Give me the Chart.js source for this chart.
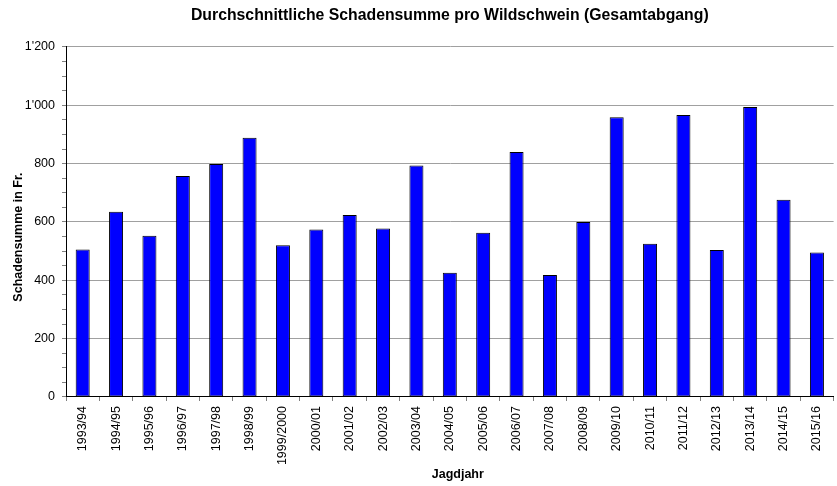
<!DOCTYPE html>
<html>
<head>
<meta charset="utf-8">
<script src="https://cdn.jsdelivr.net/npm/chart.js@4/dist/chart.umd.min.js"></script>
<style>
  html, body { margin: 0; padding: 0; background: #ffffff; }
  #wrap { width: 837px; height: 486px; }
</style>
</head>
<body>
<div id="wrap"><canvas id="c" width="837" height="486"></canvas></div>
<script>
const categories = ["1993/94","1994/95","1995/96","1996/97","1997/98","1998/99","1999/2000","2000/01","2001/02","2002/03","2003/04","2004/05","2005/06","2006/07","2007/08","2008/09","2009/10","2010/11","2011/12","2012/13","2013/14","2014/15","2015/16"];
const schadensumme = [506, 635, 553, 758, 799, 889, 520, 574, 624, 578, 794, 426, 563, 840, 418, 600, 959, 525, 967, 504, 994, 676, 495];
const chartTitle = "Durchschnittliche Schadensumme pro Wildschwein (Gesamtabgang)";
const yTitle = "Schadensumme in Fr.";
const xTitle = "Jagdjahr";
const yMax = 1200;
const yMajorStep = 200;
const yMinorStep = 50;

const FONT = "'Liberation Sans', Arial, Helvetica, sans-serif";

function fmt(v) {
  return String(v).replace(/\B(?=(\d{3})+(?!\d))/g, "'");
}

// Axis titles drawn as canvas text, placed relative to the chart area
const axisTitles = {
  id: 'axisTitles',
  afterDraw(chart, args, opts) {
    const { ctx, chartArea } = chart;
    ctx.save();
    ctx.fillStyle = '#000';
    ctx.font = 'bold 12.5px ' + FONT;
    ctx.textAlign = 'center';
    ctx.textBaseline = 'middle';
    // y title
    ctx.save();
    ctx.translate(19, chartArea.top + (chartArea.bottom - chartArea.top) * 0.543);
    ctx.rotate(-Math.PI / 2);
    ctx.fillText(opts.yText, 0, 0);
    ctx.restore();
    // x title
    ctx.fillText(opts.xText, (chartArea.left + chartArea.right) / 2 + 8, 475);
    ctx.restore();
  }
};

Chart.defaults.font.family = FONT;
Chart.defaults.color = '#000';

new Chart(document.getElementById('c'), {
  type: 'bar',
  data: {
    labels: categories,
    datasets: [{
      data: schadensumme,
      backgroundColor: '#0000ff',
      borderColor: '#000000',
      borderWidth: 1,
      borderSkipped: false,
      barPercentage: 0.42,
      categoryPercentage: 1.0
    }]
  },
  plugins: [axisTitles],
  options: {
    responsive: false,
    animation: false,
    devicePixelRatio: 1,
    layout: { padding: { left: 0, right: 1, top: 0, bottom: 0 } },
    plugins: {
      legend: { display: false },
      tooltip: { enabled: false },
      axisTitles: { xText: xTitle, yText: yTitle },
      title: {
        display: true,
        text: chartTitle,
        fullSize: false,
        font: { size: 15.8, weight: 'bold', family: FONT },
        color: '#000',
        padding: { top: 6, bottom: 22 }
      }
    },
    scales: {
      x: {
        offset: true,
        grid: {
          offset: true,
          drawOnChartArea: false,
          drawTicks: true,
          tickLength: 4,
          tickColor: '#808080'
        },
        border: { display: true, color: '#000', width: 1 },
        ticks: {
          autoSkip: false,
          maxRotation: 90,
          minRotation: 90,
          padding: 5,
          font: { size: 12.5, family: FONT },
          color: '#000'
        },
        title: { display: false, text: xTitle },
        afterFit(scale) { scale.height = 89; }
      },
      y: {
        min: 0,
        max: yMax,
        grid: {
          color: (ctx) => (ctx.tick && ctx.tick.value % yMajorStep === 0) ? '#a0a0a0' : 'rgba(0,0,0,0)',
          tickColor: '#808080',
          drawTicks: true,
          tickLength: 4,
          lineWidth: 1
        },
        border: { display: true, color: '#000', width: 1 },
        ticks: {
          stepSize: yMinorStep,
          autoSkip: false,
          padding: 7,
          font: { size: 12.5, family: FONT },
          color: '#000',
          callback: (v) => (v % yMajorStep === 0) ? fmt(v) : ''
        },
        title: { display: false, text: yTitle },
        afterFit(scale) { scale.width = 66; }
      }
    }
  }
});
</script>
</body>
</html>
